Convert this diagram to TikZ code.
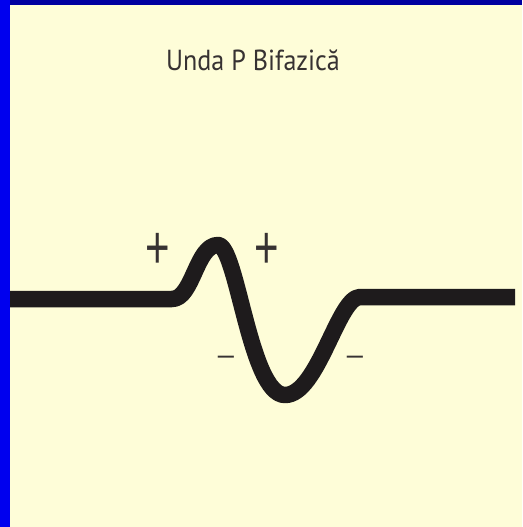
\documentclass[tikz,border=0pt]{standalone}
\usepackage{fontspec}
\newfontfamily\titlefont{PT Sans}
\newfontfamily\semnfont{Liberation Sans}
\definecolor{hartie}{RGB}{254,253,216}
\definecolor{albastru}{RGB}{0,0,238}
\definecolor{bleumarin}{RGB}{0,0,160}
\definecolor{cerneala}{RGB}{30,27,28}
\definecolor{gri}{RGB}{55,50,50}

\begin{document}
\begin{tikzpicture}[x=1pt,y=-1pt,
  plus/.style={text=gri,font=\semnfont\fontsize{42}{42}\selectfont,inner sep=0pt,yscale=1.45,transform shape},
  minus/.style={text=gri,font=\semnfont\fontsize{29}{29}\selectfont,inner sep=0pt}]
  % ===== fundal =====
  \fill[hartie] (0,0) rectangle (522,527);
  \useasboundingbox (0,0) rectangle (522,527);
  \fill[albastru] (0,0) rectangle (10,527);
  \fill[bleumarin] (10,0) rectangle (522,5);
  % titlu
  \node[text=gri,font=\titlefont\fontsize{29}{29}\selectfont,xscale=0.9,transform shape]
    (titlu) at (253,60) {Unda P Bifazică};
  % ===== unda P =====
  \coordinate (S) at (10,299);
  \coordinate (A) at (172,299);
  \coordinate (V) at (218,245);
  \coordinate (M) at (285,395);
  \coordinate (B) at (360,297);
  \coordinate (E) at (515,297);
  \draw[cerneala,line width=16.5pt,line join=round]
    (S) -- (A) .. controls (193,299) and (196,245) .. (V)
    .. controls (237,245) and (250,395) .. (M)
    .. controls (318,395) and (338,297) .. (B) -- (E);
  % semne (+ sus, - jos)
  \node[plus] (plusA) at (158,251) {+};
  \node[plus] (plusB) at (267,251) {+};
  \node[minus] (minusA) at (226,360) {–};
  \node[minus] (minusB) at (355,360) {–};
\end{tikzpicture}
\end{document}
